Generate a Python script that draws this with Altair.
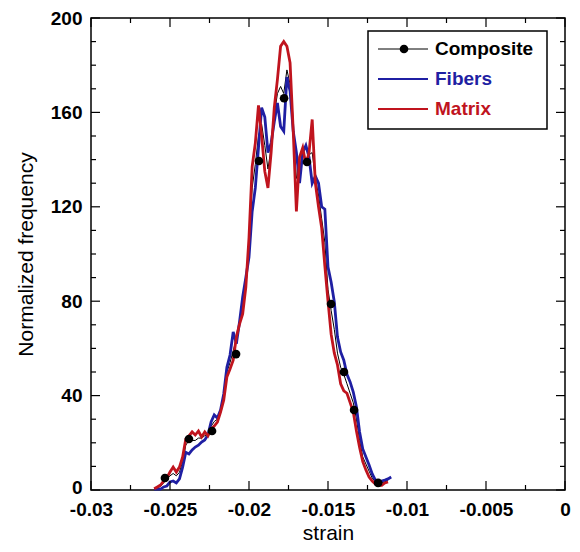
import altair as alt
import pandas as pd

strain = [
    -0.0260, -0.0258, -0.0256, -0.0254, -0.0252, -0.0250, -0.0248, -0.0246, -0.0244, -0.0242,
    -0.0240, -0.0238, -0.0236, -0.0234, -0.0232, -0.0230, -0.0228, -0.0226, -0.0224, -0.0222,
    -0.0220, -0.0218, -0.0216, -0.0214, -0.0212, -0.0210, -0.0208, -0.0206, -0.0204, -0.0202,
    -0.0200, -0.0198, -0.0196, -0.0194, -0.0192, -0.0190, -0.0188, -0.0186, -0.0184, -0.0182,
    -0.0180, -0.0178, -0.0176, -0.0174, -0.0172, -0.0170, -0.0168, -0.0166, -0.0164, -0.0162,
    -0.0160, -0.0158, -0.0156, -0.0154, -0.0152, -0.0150, -0.0148, -0.0146, -0.0144, -0.0142,
    -0.0140, -0.0138, -0.0136, -0.0134, -0.0132, -0.0130, -0.0128, -0.0126, -0.0124, -0.0122,
    -0.0120, -0.0118, -0.0116, -0.0114, -0.0112, -0.0110,
]

fibers = [
    0.3, 0.5, 0.4, 1.3, 1.7, 3.4, 3.8, 3.0, 4.7, 9.7,
    16, 15.3, 17, 18.2, 19, 20.3, 21.2, 23.3, 28.8, 31.8,
    30.5, 33.9, 40.7, 52, 57.2, 67, 62, 71.2, 81.8, 90,
    98.7, 118, 128, 145, 162, 158, 143, 147, 156, 164,
    154, 152, 175, 169, 152, 143, 130, 143, 146, 141,
    130, 133, 130, 120, 119, 94.5, 88, 79.7, 64.8, 58.5,
    55, 49, 45.8, 41.5, 35.2, 24.6, 17.4, 14, 10.6, 6.8,
    4.2, 3.0, 3.8, 4.2, 4.7, 5.5,
]

matrix = [
    0.5, 1.3, 2.1, 3.8, 5.1, 7.6, 9.7, 7.6, 9.7, 14,
    21.6, 22.9, 24.6, 23.3, 25, 22.5, 24.6, 22.9, 25.8, 27.1,
    28.8, 33, 38, 47.9, 51.3, 55, 64.8, 70.3, 74.6, 86,
    107, 137, 147, 163, 150, 135, 128, 143, 162, 174,
    188, 190, 188, 181, 152, 118, 141, 145, 138, 143,
    157, 130, 120, 111, 95, 80, 66, 58, 53, 45,
    42, 41, 37, 33, 25, 18, 12, 8.5, 5.5, 3.8,
    2.5, 2.0, 2.0, 3.0, 3.4, None,
]

composite = [
    0.5, 1, 1.5, 3, 4.5, 6, 7, 6, 7.5, 12,
    19, 21, 21, 21, 22, 22, 23, 23.5, 27, 29,
    30, 33, 39, 50, 54, 59, 64, 70, 78, 88,
    103, 128, 138, 150, 155, 146, 136, 145, 159, 168,
    171, 168, 178, 172, 152, 132, 136, 143, 140, 142,
    143, 132, 125, 115, 105, 85, 76, 68, 58, 52,
    49, 45, 41, 37, 30, 21, 14, 11, 8, 5,
    3.5, 2.5, 3, 3.5, 4, None,
]

marker_strain = [-0.02532, -0.02380, -0.02234, -0.02082, -0.01937, -0.01778,
                 -0.01633, -0.01481, -0.01399, -0.01335, -0.01183]
marker_freq = [5.1, 21.6, 25, 57.6, 139.4, 166, 139, 78.8, 50, 33.9, 3]

x_major = [-0.03, -0.025, -0.02, -0.015, -0.01, -0.005, 0.0]
x_minor = [-0.0275, -0.0225, -0.0175, -0.0125, -0.0075, -0.0025]
y_major = [0, 40, 80, 120, 160, 200]
y_minor = [10, 20, 30, 50, 60, 70, 90, 100, 110, 130, 140, 150, 170, 180, 190]

legend_labels = ["Composite", "Fibers", "Matrix"]

W, H = 474, 472
BLUE = "#1f1fa3"
RED = "#c0141e"
FONT = "Liberation Sans"

df = pd.DataFrame({"strain": strain, "fibers": fibers, "matrix": matrix, "composite": composite})
df_mark = pd.DataFrame({"strain": marker_strain, "freq": marker_freq})
df_xmaj = pd.DataFrame({"strain": x_major})
df_xmin = pd.DataFrame({"strain": x_minor})
df_ymaj = pd.DataFrame({"freq": y_major})
df_ymin = pd.DataFrame({"freq": y_minor})
df_one = pd.DataFrame({"a": [0]})

xscale = alt.Scale(domain=[-0.03, 0], nice=False, zero=False)
yscale = alt.Scale(domain=[0, 200], nice=False, zero=False)
xaxis = alt.Axis(values=x_major, title="strain", labelFlush=False,
                 labelExpr="datum.value == 0 ? '0' : '-' + format(-datum.value, '~g')")
yaxis = alt.Axis(values=y_major, title="Normalized frequency", format="d", labelFlush=False,
                 labelOffset={"condition": {"test": "datum.value == 0", "value": -3}, "value": 0})


def X(field="strain"):
    return alt.X(f"{field}:Q", scale=xscale, axis=xaxis)


def Y(field):
    return alt.Y(f"{field}:Q", scale=yscale, axis=yaxis)


comp_line = alt.Chart(df).mark_line(color="black", strokeWidth=1).encode(x=X(), y=Y("composite"))
fib_line = alt.Chart(df).mark_line(color=BLUE, strokeWidth=2.8).encode(x=X(), y=Y("fibers"))
mat_line = alt.Chart(df).mark_line(color=RED, strokeWidth=2.8).encode(x=X(), y=Y("matrix"))
dots = alt.Chart(df_mark).mark_circle(color="black", size=75, opacity=1).encode(x=X(), y=Y("freq"))

tick_layers = []
for d, ln in ((df_xmaj, 9), (df_xmin, 5)):
    tick_layers.append(alt.Chart(d).mark_rule(color="black", strokeWidth=1.2).encode(
        x=X(), y=alt.value(H), y2=alt.value(H - ln)))
    tick_layers.append(alt.Chart(d).mark_rule(color="black", strokeWidth=1.2).encode(
        x=X(), y=alt.value(0), y2=alt.value(ln)))
for d, ln in ((df_ymaj, 9), (df_ymin, 5)):
    tick_layers.append(alt.Chart(d).mark_rule(color="black", strokeWidth=1.2).encode(
        y=Y("freq"), x=alt.value(0), x2=alt.value(ln)))
    tick_layers.append(alt.Chart(d).mark_rule(color="black", strokeWidth=1.2).encode(
        y=Y("freq"), x=alt.value(W), x2=alt.value(W - ln)))

legend_box = alt.Chart(df_one).mark_rect(fill="white", stroke="black", strokeWidth=1.5).encode(
    x=alt.value(277), x2=alt.value(456), y=alt.value(13), y2=alt.value(111))

leg_layers = [legend_box]
rows = [(legend_labels[0], "black", 31, 1), (legend_labels[1], BLUE, 61, 2), (legend_labels[2], RED, 91, 2)]
for lab, col, yy, sw in rows:
    leg_layers.append(alt.Chart(df_one).mark_rule(color=col, strokeWidth=sw).encode(
        x=alt.value(287), x2=alt.value(337), y=alt.value(yy)))
    leg_layers.append(alt.Chart(df_one).mark_text(
        align="left", baseline="middle", font=FONT, fontSize=19, fontWeight="bold", color=col
    ).encode(x=alt.value(344), y=alt.value(yy), text=alt.value(lab)))
leg_layers.append(alt.Chart(df_one).mark_circle(color="black", size=75, opacity=1).encode(
    x=alt.value(313), y=alt.value(31)))

chart = alt.layer(
    comp_line, fib_line, mat_line, dots, *tick_layers, *leg_layers
).properties(
    width=W, height=H,
    padding={"left": 83, "top": 10, "right": 7, "bottom": 54},
    autosize=alt.AutoSizeParams(type="none"),
).configure_view(
    stroke="black", strokeWidth=1.5
).configure_axis(
    domain=False, ticks=False, grid=False,
    labelFont=FONT, labelFontSize=19, labelFontWeight="bold", labelColor="black",
    labelPadding=9,
    titleFont=FONT, titleFontSize=21, titleFontWeight="normal", titleColor="black",
).configure_axisX(titlePadding=3, labelPadding=10).configure_axisY(titlePadding=14)

chart.save("out.html", embed_options={"renderer": "svg", "actions": False})
